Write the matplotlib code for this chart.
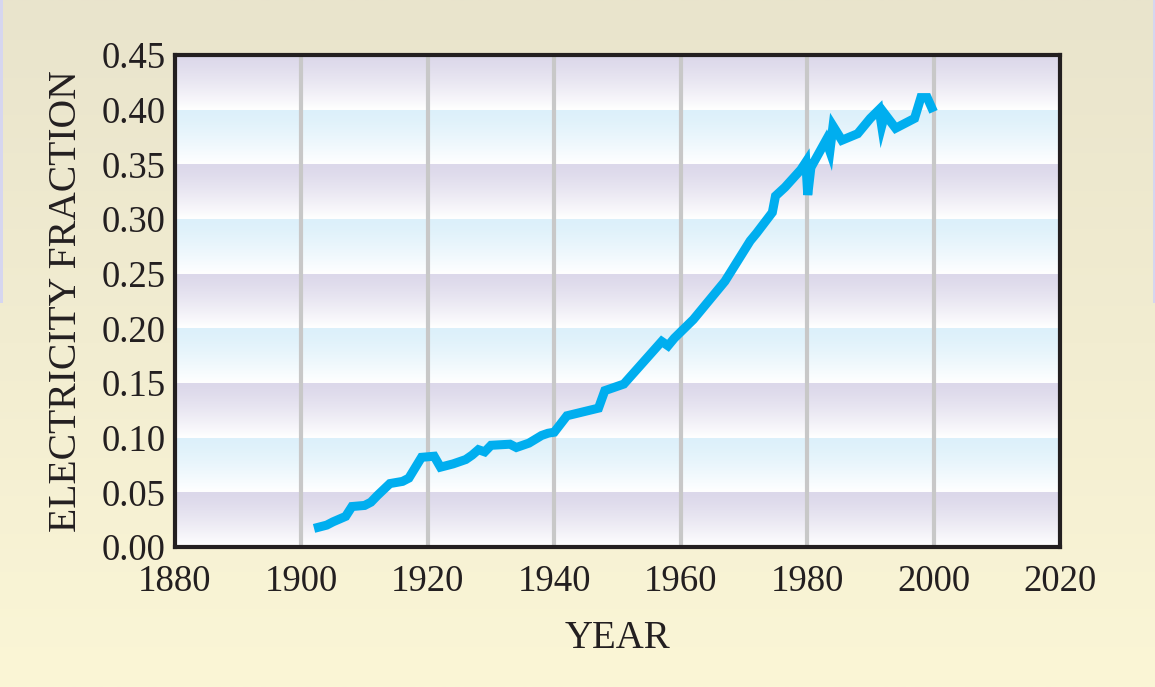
import numpy as np
import matplotlib
matplotlib.use("Agg")
import matplotlib.pyplot as plt
from matplotlib.colors import to_rgb
from matplotlib.patches import Rectangle

# values
years = [1902, 1904, 1905, 1907, 1908, 1910, 1911, 1912, 1914, 1916, 1917,
         1919, 1921, 1922, 1924, 1926, 1927, 1928, 1929, 1930, 1933, 1934,
         1936, 1938, 1939, 1940, 1942, 1947, 1948, 1951, 1957, 1958, 1959,
         1962, 1963, 1967, 1971, 1972, 1974.5, 1975, 1976.5, 1979, 1979.8,
         1980.1, 1980.6, 1983, 1983.6, 1984.1, 1985.5, 1988, 1990, 1991.4,
         1991.8, 1992.3, 1994, 1997, 1998, 1999, 2000]
fraction = [0.017, 0.020, 0.023, 0.028, 0.037, 0.038, 0.041, 0.047, 0.058,
            0.060, 0.063, 0.082, 0.083, 0.073, 0.076, 0.080, 0.084, 0.089,
            0.087, 0.093, 0.094, 0.091, 0.095, 0.102, 0.104, 0.105, 0.120,
            0.127, 0.143, 0.149, 0.188, 0.184, 0.191, 0.208, 0.215, 0.243,
            0.280, 0.287, 0.306, 0.321, 0.329, 0.345, 0.352, 0.322, 0.347,
            0.372, 0.362, 0.385, 0.372, 0.378, 0.392, 0.400, 0.385, 0.396,
            0.383, 0.392, 0.411, 0.411, 0.398]

x_ticks = [1880, 1900, 1920, 1940, 1960, 1980, 2000, 2020]
y_ticks = [0.00, 0.05, 0.10, 0.15, 0.20, 0.25, 0.30, 0.35, 0.40, 0.45]

plt.rcParams['font.family'] = ['Liberation Serif', 'DejaVu Serif']
ink = "#231f20"

fig = plt.figure(figsize=(11.55, 6.87), dpi=100)

# page background: beige fading to pale yellow
bg = fig.add_axes([0, 0, 1, 1], zorder=-10)
top_c = np.array(to_rgb("#e9e4cc"))
bot_c = np.array(to_rgb("#fbf6d6"))
t = np.linspace(0, 1, 256)[:, None]
grad = top_c * (1 - t) + bot_c * t
bg.imshow(grad[:, None, :], aspect="auto", extent=[0, 1, 0, 1])
bg.add_patch(Rectangle((0, 1 - 303 / 687), 3 / 1155, 303 / 687,
                       color="#d6d6ef", lw=0))
bg.add_patch(Rectangle((1 - 2 / 1155, 1 - 303 / 687), 2 / 1155, 303 / 687,
                       color="#d6d6ef", lw=0))
bg.set_xlim(0, 1)
bg.set_ylim(0, 1)
bg.axis("off")

ax = fig.add_axes([0.1515, 0.2038, 0.7662, 0.7162])

# banded plot area, every band fades towards white at its bottom
lav = np.array(to_rgb("#dcd8ea"))
blue = np.array(to_rgb("#dcf0fa"))
white = np.array([1.0, 1.0, 1.0])
for i in range(len(y_ticks) - 1):
    c = lav if i % 2 == 0 else blue
    s = np.linspace(0, 1, 64)[:, None] ** 1.3
    band = c * (1 - s) + white * s
    ax.imshow(band[:, None, :], aspect="auto", origin="upper",
              extent=[x_ticks[0], x_ticks[-1], y_ticks[i], y_ticks[i + 1]],
              zorder=0)

for x in x_ticks[1:-1]:
    ax.axvline(x, color="#c8c8c8", lw=3, zorder=1)

ax.plot(years, fraction, color="#00aeef", lw=6.5, zorder=3,
        solid_joinstyle="miter", solid_capstyle="butt")

ax.set_xlim(x_ticks[0], x_ticks[-1])
ax.set_ylim(y_ticks[0], y_ticks[-1])
ax.set_xticks(x_ticks)
ax.set_yticks(y_ticks)
ax.set_yticklabels([f"{v:.2f}" for v in y_ticks])
ax.tick_params(length=0, labelsize=26.5, colors=ink)
ax.tick_params(axis="x", pad=12.5)
ax.tick_params(axis="y", pad=7)
for sp in ax.spines.values():
    sp.set_linewidth(3)
    sp.set_color(ink)
    sp.set_zorder(5)

ax.set_xlabel("YEAR", fontsize=28, color=ink, labelpad=15.5)
ax.set_ylabel("ELECTRICITY FRACTION", fontsize=28.5, color=ink,
              labelpad=11.5)

fig.savefig("out.png", dpi=100)
